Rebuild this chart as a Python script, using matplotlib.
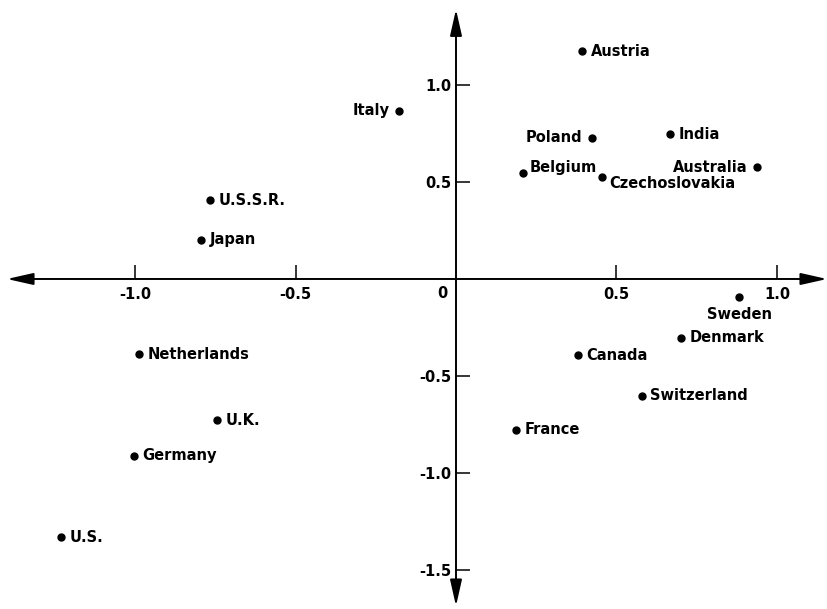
import matplotlib
matplotlib.use("Agg")
import matplotlib.pyplot as plt
from matplotlib.patches import FancyArrowPatch

# country positions on the first two dimensions
countries = ["Austria", "Italy", "Poland", "India", "Australia", "Belgium",
             "Czechoslovakia", "U.S.S.R.", "Japan", "Sweden", "Denmark",
             "Canada", "Switzerland", "France", "Netherlands", "U.K.",
             "Germany", "U.S."]
dim1 = [0.393, -0.178, 0.424, 0.667, 0.938, 0.209, 0.455, -0.766, -0.794,
        0.882, 0.701, 0.380, 0.579, 0.187, -0.988, -0.745, -1.003, -1.231]
dim2 = [1.175, 0.866, 0.727, 0.747, 0.577, 0.546, 0.526, 0.407, 0.201,
        -0.093, -0.304, -0.392, -0.603, -0.778, -0.387, -0.727, -0.912, -1.330]

xticks = [-1.0, -0.5, 0.5, 1.0]
xtick_labels = ["-1.0", "-0.5", "0.5", "1.0"]
yticks = [-1.5, -1.0, -0.5, 0.5, 1.0]
ytick_labels = ["-1.5", "-1.0", "-0.5", "0.5", "1.0"]

# label offsets (points) and alignment for each country
label_pos = {
    "Italy": ((-7, 0), "right", "center"),
    "Poland": ((-7, 0), "right", "center"),
    "Australia": ((-7, 0), "right", "center"),
    "Sweden": ((0, -7), "center", "top"),
    "Belgium": ((5, 4), "left", "center"),
    "Czechoslovakia": ((5, -5), "left", "center"),
}

FS = 10.5

fig = plt.figure(figsize=(8.27, 6.09), dpi=100)
ax = fig.add_axes([0, 0, 1, 1])
ax.set_xlim(-1.4206, 1.1558)
ax.set_ylim(-1.701, 1.438)

for s in ax.spines.values():
    s.set_visible(False)
ax.spines["left"].set_position("zero")
ax.spines["bottom"].set_position("zero")

ax.set_xticks(xticks)
ax.set_xticklabels(xtick_labels, fontweight="bold")
ax.set_yticks(yticks)
ax.set_yticklabels(ytick_labels, fontweight="bold")
ax.tick_params(axis="x", direction="in", length=10, width=1.1, pad=6,
               labelsize=FS)
ax.tick_params(axis="y", direction="in", length=10, width=1.1, pad=3,
               labelsize=FS)
ax.text(-0.025, -0.035, "0", ha="right", va="top", fontsize=FS,
        fontweight="bold")

# axis arrows
style = "<|-|>,head_length=16,head_width=3.6"
ax.add_patch(FancyArrowPatch((-1.399, 0), (1.156, 0), arrowstyle=style,
                             mutation_scale=1, lw=1.4, color="black",
                             shrinkA=0, shrinkB=0))
ax.add_patch(FancyArrowPatch((0, -1.686), (0, 1.39), arrowstyle=style,
                             mutation_scale=1, lw=1.4, color="black",
                             shrinkA=0, shrinkB=0))

ax.plot(dim1, dim2, "o", color="black", markersize=5, ls="none")

for name, x, y in zip(countries, dim1, dim2):
    off, ha, va = label_pos.get(name, ((6, 0), "left", "center"))
    ax.annotate(name, (x, y), xytext=off, textcoords="offset points",
                ha=ha, va=va, fontsize=FS, fontweight="bold")

plt.savefig("out.png", dpi=100)
plt.close()
